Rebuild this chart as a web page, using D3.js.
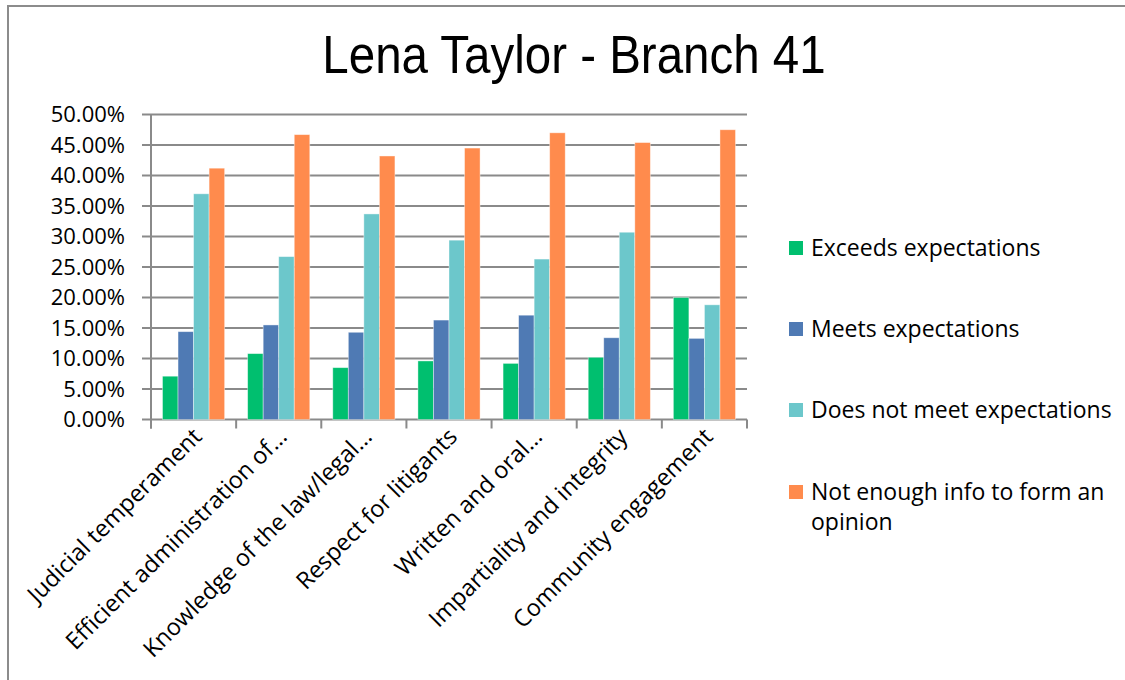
<!DOCTYPE html>
<head>
  <meta charset="utf-8">
  <script src="https://d3js.org/d3.v7.min.js"></script>
  <style>
    body { margin: 0; background: #fff; }
    text { font-family: "Open Sans", sans-serif; fill: #000; }
    .title { font-family: "Liberation Sans", Arial, sans-serif; font-size: 47.5px; text-anchor: middle; }
  </style>
</head>
<body>
  <div id="chart"></div>
  <script>
    var categories = ["Judicial temperament", "Efficient administration of…", "Knowledge of the law/legal…",
      "Respect for litigants", "Written and oral…", "Impartiality and integrity", "Community engagement"];
    var seriesNames = ["Exceeds expectations", "Meets expectations", "Does not meet expectations",
      "Not enough info to form an opinion"];
    var exceeds = [7.1, 10.8, 8.5, 9.6, 9.2, 10.2, 20.0];
    var meets = [14.4, 15.5, 14.3, 16.3, 17.1, 13.4, 13.3];
    var doesNot = [37.0, 26.7, 33.7, 29.4, 26.3, 30.7, 18.8];
    var notEnough = [41.2, 46.7, 43.2, 44.5, 47.0, 45.4, 47.5];
    var yTicks = [0, 5, 10, 15, 20, 25, 30, 35, 40, 45, 50];
    var colors = ["#00bf6f", "#4f7ab4", "#6cc7cb", "#ff8b4d"];

    var values = [exceeds, meets, doesNot, notEnough];

    var width = 1125, height = 680;
    var plot = { left: 151, right: 747, top: 114.5, bottom: 419.5 };

    var svg = d3.select("#chart").append("svg")
      .attr("width", width)
      .attr("height", height);

    // outer frame (left + top edges visible)
    svg.append("path")
      .attr("d", "M8,680 V6 H1125")
      .attr("fill", "none")
      .attr("stroke", "#8c8c8c")
      .attr("stroke-width", 2);

    // title, drawn a bit taller than plain Arial
    svg.append("text")
      .attr("class", "title")
      .attr("transform", "translate(574,73) scale(1,1.13)")
      .text("Lena Taylor - Branch 41");

    var x = d3.scaleBand().domain(categories).range([plot.left, plot.right]);
    var xs = d3.scaleBand().domain(d3.range(4))
      .range([11.5, x.bandwidth() - 11.5]);
    var y = d3.scaleLinear().domain([0, 50]).range([plot.bottom, plot.top]);

    // gridlines
    svg.append("g").selectAll("line")
      .data(yTicks)
      .enter().append("line")
      .attr("x1", plot.left - 9)
      .attr("x2", plot.right)
      .attr("y1", function(d) { return y(d); })
      .attr("y2", function(d) { return y(d); })
      .attr("stroke", "#8a8a8a")
      .attr("stroke-width", 2);

    // y labels
    svg.append("g").selectAll("text")
      .data(yTicks)
      .enter().append("text")
      .attr("x", 125)
      .attr("y", function(d) { return y(d); })
      .attr("dy", "0.36em")
      .attr("text-anchor", "end")
      .style("font-size", "22px")
      .text(function(d) { return d.toFixed(2) + "%"; });

    // bars
    var groups = svg.append("g").selectAll("g")
      .data(categories)
      .enter().append("g")
      .attr("transform", function(d) { return "translate(" + x(d) + ",0)"; });

    groups.selectAll("rect")
      .data(function(d, i) { return values.map(function(s, j) { return { s: j, v: s[i] }; }); })
      .enter().append("rect")
      .attr("x", function(d) { return xs(d.s); })
      .attr("width", xs.bandwidth())
      .attr("y", function(d) { return y(d.v); })
      .attr("height", function(d) { return y(0) - y(d.v); })
      .attr("fill", function(d) { return colors[d.s]; })
      .attr("stroke", "rgba(255,255,255,0.5)")
      .attr("stroke-width", 0.8);

    // axes lines
    svg.append("line")
      .attr("x1", plot.left).attr("x2", plot.left)
      .attr("y1", plot.top).attr("y2", plot.bottom + 9)
      .attr("stroke", "#8a8a8a").attr("stroke-width", 2);

    var bounds = categories.map(function(c) { return x(c); }).concat([plot.right]);
    svg.append("g").selectAll("line")
      .data(bounds)
      .enter().append("line")
      .attr("x1", function(d) { return d; })
      .attr("x2", function(d) { return d; })
      .attr("y1", plot.bottom)
      .attr("y2", plot.bottom + 9)
      .attr("stroke", "#8a8a8a")
      .attr("stroke-width", 2);

    // x labels
    svg.append("g").selectAll("text")
      .data(categories)
      .enter().append("text")
      .attr("transform", function(d) {
        return "translate(" + (x(d) + x.bandwidth() / 2 - 2) + "," + (plot.bottom + 7) + ") rotate(-45)";
      })
      .attr("text-anchor", "end")
      .attr("dy", "0.7em")
      .style("font-size", "23.5px")
      .text(function(d) { return d; });

    // legend
    var legendY = [248, 329, 410, 492];
    var legend = svg.append("g").selectAll("g")
      .data(seriesNames)
      .enter().append("g")
      .attr("transform", function(d, i) { return "translate(789," + legendY[i] + ")"; });

    legend.append("rect")
      .attr("x", 0).attr("y", -7)
      .attr("width", 14).attr("height", 14)
      .attr("fill", function(d, i) { return colors[i]; });

    legend.append("text")
      .attr("x", 22)
      .attr("y", 0)
      .style("font-size", "23px")
      .each(function(d) {
        var t = d3.select(this);
        var lines = d === "Not enough info to form an opinion" ? ["Not enough info to form an", "opinion"] : [d];
        lines.forEach(function(l, k) {
          t.append("tspan").attr("x", 22).attr("dy", k === 0 ? "0.36em" : "30px").text(l);
        });
      });
  </script>
</body>
